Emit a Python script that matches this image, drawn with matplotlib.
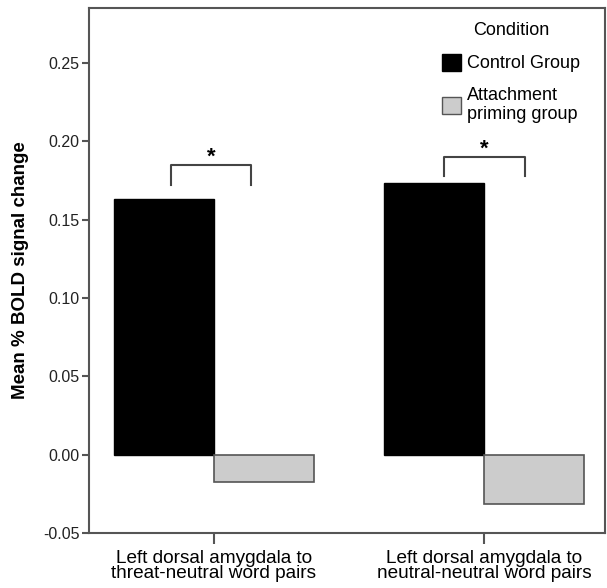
import numpy as np
import matplotlib.pyplot as plt
from matplotlib.patches import Patch

plt.rcParams['font.family'] = ['Liberation Sans', 'DejaVu Sans']

# data
categories = ['Left dorsal amygdala to\nthreat-neutral word pairs',
              'Left dorsal amygdala to\nneutral-neutral word pairs']
control = [0.163, 0.173]
attachment = [-0.0173, -0.0318]
series_labels = ['Control Group', 'Attachment\npriming group']

spine_col = '#555555'
txt_col = '#222222'

fig = plt.figure(figsize=(6.07, 5.88), dpi=100)
ax = fig.add_axes([0.1466, 0.0935, 0.85, 0.893])

x = np.arange(len(categories))
w = 0.37
ax.bar(x - w / 2, control, w, color='black', edgecolor='black', linewidth=1)
ax.bar(x + w / 2, attachment, w, color='#cccccc', edgecolor='#555555', linewidth=1.2)

ax.set_xlim(-0.463, 1.448)
ax.set_ylim(-0.05, 0.285)
ax.set_yticks([-0.05, 0.0, 0.05, 0.10, 0.15, 0.20, 0.25])
ax.set_yticklabels(['-0.05', '0.00', '0.05', '0.10', '0.15', '0.20', '0.25'])
ax.set_xticks(x)
ax.set_xticklabels(categories, fontsize=13.7, color='black', linespacing=0.88)

for s in ax.spines.values():
    s.set_color(spine_col)
    s.set_linewidth(1.5)
ax.tick_params(axis='y', length=5, width=1.5, color=spine_col, labelsize=11.5,
               labelcolor=txt_col, pad=2)
ax.tick_params(axis='x', length=8, width=1.5, color=spine_col, pad=4)

ax.set_ylabel('Mean % BOLD signal change', fontsize=13.5, fontweight='bold',
              labelpad=10)

# significance brackets
brackets = [(-0.159, 0.137, 0.185, 0.172), (0.852, 1.152, 0.190, 0.178)]
for x0, x1, ytop, ybot in brackets:
    ax.plot([x0, x0, x1, x1], [ybot, ytop, ytop, ybot], color='#444444', lw=1.5)
    ax.text((x0 + x1) / 2, ytop - 0.002, '*', ha='center', va='bottom',
            fontsize=16, fontweight='bold')

handles = [Patch(facecolor='black', edgecolor='black'),
           Patch(facecolor='#cccccc', edgecolor='#555555')]
leg = ax.legend(handles, series_labels, title='Condition', loc='upper right',
                bbox_to_anchor=(0.98, 1.0), frameon=False, fontsize=13,
                title_fontsize=13, handlelength=1.05, handleheight=1.05,
                handletextpad=0.35, labelspacing=0.8, borderpad=0.3)

fig.savefig('out.png', dpi=100)
